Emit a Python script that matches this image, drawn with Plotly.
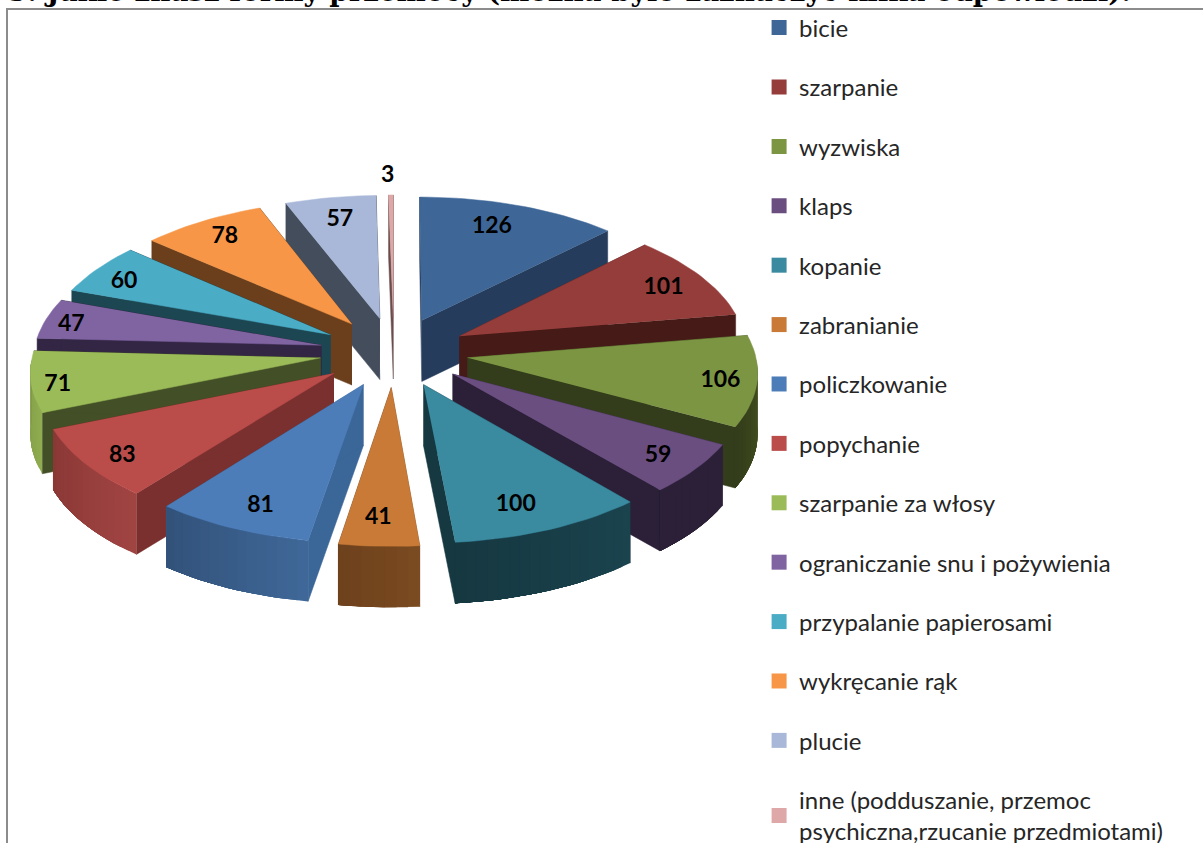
import math
import plotly.graph_objects as go

categories = ["bicie", "szarpanie", "wyzwiska", "klaps", "kopanie", "zabranianie", "policzkowanie",
              "popychanie", "szarpanie za włosy", "ograniczanie snu i pożywienia",
              "przypalanie papierosami", "wykręcanie rąk", "plucie",
              "inne (podduszanie, przemoc<br>psychiczna,rzucanie przedmiotami)"]
values = [126, 101, 106, 59, 100, 41, 81, 83, 71, 47, 60, 78, 57, 3]
top_colors = ["#3E6797", "#953D3B", "#7C9543", "#6A4E80", "#3A8AA0", "#C87A36", "#4C7DB9",
              "#BA4D4A", "#9BBB59", "#8064A2", "#4BACC6", "#F79646", "#A9B8D8", "#DEA8A8"]
wall_colors = ["#263C5C", "#451A17", "#333D1B", "#2C2038", "#163841", "#74451F", "#3B6698",
               "#7A302F", "#434F26", "#332645", "#1C4752", "#6B3F1C", "#444D5C", "#6B4C4C"]
outer_start = ["#2F4C72", "#6F2E2C", "#47551F", "#2C2038", "#1A434E", "#7A4A20", "#3F6797",
               "#A04442", "#8FAC50", "#6A5288", "#3E90A6", "#D07C38", "#8F9DB8", "#C09090"]
outer_end = ["#263C5C", "#451A17", "#333D1B", "#2C2038", "#163841", "#6E421D", "#32527A",
             "#8A3836", "#7F9A48", "#6A5288", "#3E90A6", "#D07C38", "#8F9DB8", "#C09090"]
title_text = "5. Jakie znasz formy przemocy (można było zaznaczyć kilka odpowiedzi)."

CX, CY, RX, RY, PERSP, EXPLODE, DEPTH, RIM_X = 394, 352, 297, 139, 0.085, 0.25, 61, 0.968
LABEL_R = [0.82] * 13 + [1.19]
LABEL_DX = [-11, 5, 16, 8, -10, -3, 3, -10, -26, -24, -14, -3, 1, -3]
LABEL_DY = [2, 2, 4, 5, 4, 3, 6, 9, 8, 2, 2, -2, 2, 3]


def project(X, Z, drop=0):
    w = 1 + PERSP * Z
    return CX + RX * X / w, CY - RY * Z / w + drop


def rgb(h):
    return [int(h[i:i + 2], 16) for i in (1, 3, 5)]


def mix(a, b, t):
    ca, cb = rgb(a), rgb(b)
    return "rgb(%d,%d,%d)" % tuple(round(ca[i] + (cb[i] - ca[i]) * t) for i in range(3))


total = sum(values)
slices = []
cum = 0
for i, v in enumerate(values):
    a0 = cum / total * 2 * math.pi
    cum += v
    a1 = cum / total * 2 * math.pi
    slices.append((i, a0, a1, (a0 + a1) / 2))


def poly(xs, ys, color, width=0.5):
    return go.Scatter(x=xs, y=ys, mode="lines", fill="toself", fillcolor=color,
                      line=dict(color=color, width=width), hoverinfo="skip", showlegend=False)


fig = go.Figure()
order = sorted(slices, key=lambda s: -math.cos(s[3]))
for i, a0, a1, mid in order:
    ox, oz = EXPLODE * math.sin(mid), EXPLODE * math.cos(mid)
    n = max(3, int((a1 - a0) * 30))
    angles = [a0 + (a1 - a0) * k / n for k in range(n + 1)]
    rim = [(ox + RIM_X * math.sin(a), oz + math.cos(a)) for a in angles]
    # radial walls
    for (px, pz) in (rim[0], rim[-1]):
        p1, p2 = project(ox, oz), project(px, pz)
        q1, q2 = project(ox, oz, DEPTH), project(px, pz, DEPTH)
        fig.add_trace(poly([p1[0], p2[0], q2[0], q1[0]], [p1[1], p2[1], q2[1], q1[1]], wall_colors[i]))
    # outer wall, front-facing part only; each strip runs to the slice's last front-facing angle
    front = [j for j in range(n + 1) if math.cos(angles[j]) <= 0]
    if len(front) > 1:
        first, last = front[0], front[-1]
        for k in range(first, last):
            tops = [project(*rim[j]) for j in range(k, last + 1)]
            bots = [project(*rim[j], DEPTH) for j in range(last, k - 1, -1)]
            c = mix(outer_start[i], outer_end[i], (k - first) / max(1, last - first - 1))
            fig.add_trace(poly([p[0] for p in tops + bots], [p[1] for p in tops + bots], c, 0))
    # top face
    pts = [project(ox, oz)] + [project(x, z) for x, z in rim]
    fig.add_trace(poly([p[0] for p in pts], [p[1] for p in pts], top_colors[i]))

# value labels
lx, ly = [], []
for (i, a0, a1, mid), r in zip(slices, LABEL_R):
    X = EXPLODE * math.sin(mid) + r * RIM_X * math.sin(mid)
    Z = EXPLODE * math.cos(mid) + r * math.cos(mid)
    px, py = project(X, Z)
    lx.append(px + LABEL_DX[i])
    ly.append(py + LABEL_DY[i])
fig.add_trace(go.Scatter(x=lx, y=ly, mode="text", text=[str(v) for v in values],
                         textfont=dict(family="Lato", size=23, color="black", weight="bold"),
                         hoverinfo="skip", showlegend=False, cliponaxis=False))

# legend entries
for i, c in enumerate(categories):
    fig.add_trace(go.Scatter(x=[None], y=[None], mode="markers", name=c, legendgroup=c,
                             marker=dict(symbol="square", size=15, color=top_colors[i])))

fig.update_layout(
    width=1203, height=883, autosize=False,
    margin=dict(l=0, r=0, t=0, b=40),
    paper_bgcolor="white", plot_bgcolor="white",
    xaxis=dict(range=[0, 1203], visible=False, fixedrange=True),
    yaxis=dict(range=[843, 0], visible=False, fixedrange=True),
    legend=dict(x=0.631, xanchor="left", y=0.9935, yanchor="top", tracegroupgap=25.2,
                font=dict(family="Lato", size=24, color="#262626"),
                itemclick=False, itemdoubleclick=False, bgcolor="rgba(0,0,0,0)", maxheight=1000),
    shapes=[dict(type="rect", xref="x", yref="y", x0=7, y0=9, x1=1230, y1=880,
                 line=dict(color="#8C8C8C", width=2), layer="above")],
    annotations=[dict(text="<b>" + title_text + "</b>", xref="paper", yref="paper", x=0.005, y=1.0095,
                      xanchor="left", yanchor="middle", showarrow=False,
                      font=dict(family="DejaVu Serif", size=27.7, color="black"))],
)
fig.write_html("out.html", config={"displayModeBar": False},
               post_script="document.body.style.margin='0';document.documentElement.style.overflow='hidden';")
